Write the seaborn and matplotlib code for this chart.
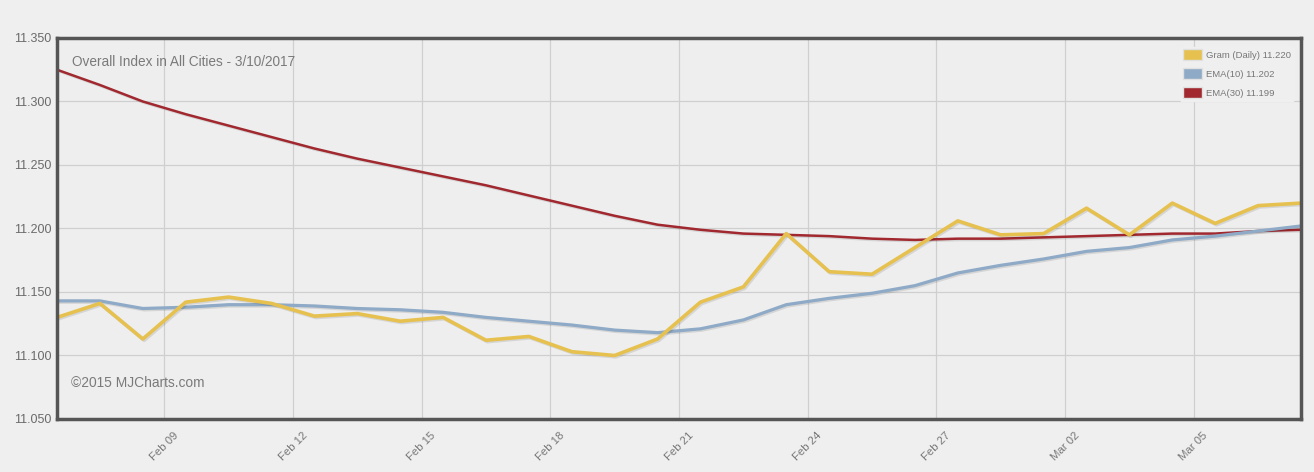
import pandas as pd
import matplotlib
matplotlib.use("Agg")
import matplotlib.pyplot as plt
import matplotlib.dates as mdates
import matplotlib.patheffects as pe
from matplotlib.patches import Patch
import seaborn as sns

# data (one point per day, Feb 06 - Mar 07 2017)
dates = pd.date_range("2017-02-06 12:00", periods=30, freq="D")

gram_daily = [11.130, 11.141, 11.113, 11.142, 11.146, 11.141, 11.131, 11.133, 11.127, 11.130,
              11.112, 11.115, 11.103, 11.100, 11.113, 11.142, 11.154, 11.196, 11.166, 11.164,
              11.185, 11.206, 11.195, 11.196, 11.216, 11.195, 11.220, 11.204, 11.218, 11.220]
ema10 = [11.143, 11.143, 11.137, 11.138, 11.140, 11.140, 11.139, 11.137, 11.136, 11.134,
         11.130, 11.127, 11.124, 11.120, 11.118, 11.121, 11.128, 11.140, 11.145, 11.149,
         11.155, 11.165, 11.171, 11.176, 11.182, 11.185, 11.191, 11.194, 11.198, 11.202]
ema30 = [11.325, 11.313, 11.300, 11.290, 11.281, 11.272, 11.263, 11.255, 11.248, 11.241,
         11.234, 11.226, 11.218, 11.210, 11.203, 11.199, 11.196, 11.195, 11.194, 11.192,
         11.191, 11.192, 11.192, 11.193, 11.194, 11.195, 11.196, 11.196, 11.198, 11.199]

names = ["Gram (Daily)", "EMA(10)", "EMA(30)"]
colors = ["#e6c14f", "#8eaac6", "#a0282e"]
widths = [2.6, 2.3, 1.8]

labels = [f"{n} {v[-1]:.3f}" for n, v in zip(names, [gram_daily, ema10, ema30])]

df = pd.concat([
    pd.DataFrame({"date": dates, "value": vals, "series": lab})
    for lab, vals in zip(labels, [gram_daily, ema10, ema30])
])

sns.set_style("white")
plt.rcParams["font.family"] = ["Liberation Sans", "DejaVu Sans"]

fig = plt.figure(figsize=(13.14, 4.72), dpi=100, facecolor="#efefef")
ax = fig.add_axes([0.0434, 0.1123, 0.9467, 0.8072])
ax.set_facecolor("#eeeeee")

# draw in reverse so the daily line sits on top
for lab, col, lw in reversed(list(zip(labels, colors, widths))):
    sns.lineplot(data=df[df["series"] == lab], x="date", y="value", color=col,
                 linewidth=lw, ax=ax, legend=False,
                 path_effects=[pe.SimpleLineShadow(offset=(1, -1), alpha=0.1),
                               pe.Normal()])

ax.set_xlim(dates[0], dates[-1])
ax.set_ylim(11.05, 11.35)
ax.set_yticks([11.05 + 0.05 * i for i in range(7)])
ax.yaxis.set_major_formatter(plt.FormatStrFormatter("%.3f"))
ax.set_xticks(pd.date_range("2017-02-09", "2017-03-05", freq="3D"))
ax.xaxis.set_major_formatter(mdates.DateFormatter("%b %d"))

ax.grid(True, color="#cfcfcf", linewidth=0.9)
ax.set_axisbelow(True)
for s in ax.spines.values():
    s.set_color("#555555")
    s.set_linewidth(2.5)

ax.tick_params(axis="y", length=0, pad=4, labelsize=9, labelcolor="#6a6a6a")
ax.tick_params(axis="x", length=0, pad=8, labelsize=8.2, labelcolor="#777777")
plt.setp(ax.get_xticklabels(), rotation=45, ha="center")
ax.set_xlabel("")
ax.set_ylabel("")

ax.text(0.012, 0.955, "Overall Index in All Cities - 3/10/2017", transform=ax.transAxes,
        fontsize=9.8, color="#7a7a7a", va="top", ha="left")
ax.text(0.011, 0.094, "\u00a92015 MJCharts.com", transform=ax.transAxes,
        fontsize=9.9, color="#7a7a7a", va="center", ha="left")

handles = [Patch(facecolor=c, edgecolor="#e0e0e0") for c in colors]
leg = ax.legend(handles, labels, loc="upper right", fontsize=6.8, frameon=True,
                facecolor="#efefef", edgecolor="#efefef", framealpha=1,
                handlelength=2.0, handleheight=1.4, labelspacing=0.85,
                borderpad=0.3, handletextpad=0.4, bbox_to_anchor=(0.998, 0.99))
leg.set_zorder(2)
for t in leg.get_texts():
    t.set_color("#777777")

fig.savefig("out.png", dpi=100, facecolor=fig.get_facecolor())
